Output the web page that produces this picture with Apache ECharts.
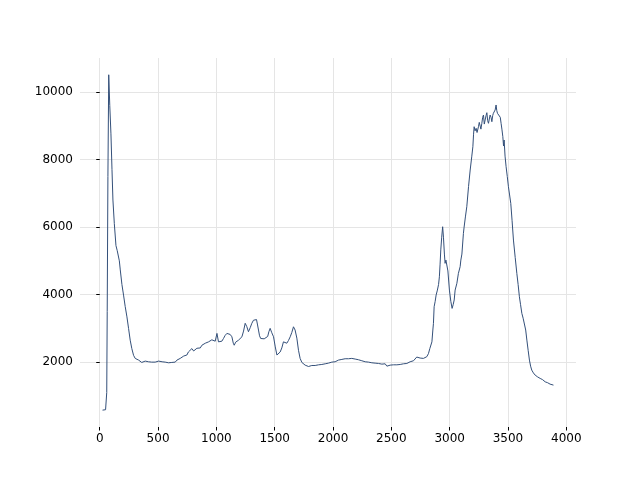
<!DOCTYPE html>
<html>
<head>
<meta charset="utf-8">
<script src="https://cdn.jsdelivr.net/npm/echarts@6/dist/echarts.min.js"></script>
<style>
html,body{margin:0;padding:0;background:#fff;}
#chart{width:640px;height:480px;}
</style>
</head>
<body>
<div id="chart"></div>
<script>
// Spectrum data
const xValues = [
24,40,50,56,60,64,70,77,86,96,105,113,125,139,150,160,168,176,190,204,218,233,247,261,275,290,304,318,333,345,
360,375,390,405,418,430,445,461,475,490,505,519,535,548,561,575,590,604,618,632,647,662,676,690,705,720,733,747,760,775,
790,805,819,833,847,862,876,890,905,919,933,947,961,975,990,1005,1018,1032,1047,1061,1075,1090,1104,1118,1133,1145,1153,1165,1178,1190,
1205,1219,1233,1247,1261,1275,1290,1304,1318,1330,1344,1353,1361,1370,1380,1395,1410,1425,1440,1450,1461,1475,1490,1505,1519,1533,1547,1561,1575,1590,
1604,1618,1633,1647,1661,1675,1690,1704,1718,1733,1747,1761,1775,1790,1804,1818,1833,1847,1862,1876,1890,1904,1918,1933,1947,1961,1976,1990,2004,2018,
2033,2047,2061,2076,2090,2104,2118,2133,2147,2161,2176,2190,2204,2218,2233,2247,2261,2276,2290,2304,2318,2333,2347,2361,2376,2390,2404,2419,2433,2447,
2462,2476,2490,2504,2518,2533,2547,2561,2576,2590,2604,2618,2633,2647,2661,2675,2690,2704,2718,2732,2747,2761,2775,2790,2804,2818,2830,2839,2848,2856,
2861,2867,2876,2884,2895,2905,2912,2918,2924,2932,2940,2947,2955,2961,2968,2976,2985,2998,3010,3021,3030,3039,3047,3062,3075,3090,3096,3105,3118,3124,
3135,3147,3162,3176,3190,3199,3205,3210,3218,3227,3235,3247,3254,3261,3268,3276,3283,3290,3297,3304,3312,3319,3326,3333,3340,3347,3355,3362,3369,3375,
3383,3390,3398,3404,3410,3418,3427,3434,3441,3448,3456,3462,3467,3475,3484,3494,3504,3514,3524,3535,3547,3562,3576,3587,3598,3608,3619,3630,3641,3652,
3662,3673,3684,3694,3704,3718,3733,3755,3776,3797,3819,3840,3861,3876,3890
];
const yValues = [
578,575,590,640,1100,3500,7500,10510,9600,8760,7700,6800,6100,5450,5300,5250,5000,4730,4300,3985,3650,3340,3000,2650,2400,2200,2110,2080,2060,2010,
1990,1980,2030,2000,2010,1970,2000,1960,2000,1990,2030,2000,2010,1990,2000,1960,1980,1930,1990,2030,2000,2060,2090,2110,2080,2180,2160,2210,2300,2270,
2400,2330,2360,2410,2450,2420,2500,2500,2560,2540,2600,2620,2660,2640,2620,2850,2600,2640,2620,2700,2790,2850,2900,2820,2750,2560,2500,2590,2620,2650,
2700,2750,2920,3150,3050,2900,3020,3150,3240,3200,3260,3100,2950,2780,2700,2740,2690,2720,2760,2900,3000,2870,2750,2450,2210,2260,2300,2420,2600,2560,
2560,2640,2750,2880,3046,2950,2710,2350,2110,1990,1940,1910,1880,1870,1860,1900,1870,1900,1890,1920,1900,1930,1910,1950,1930,1970,1960,2000,2030,2010,
2050,2060,2060,2080,2070,2100,2080,2100,2090,2110,2080,2090,2080,2070,2060,2040,2050,2010,2020,2000,1990,1980,1960,1970,1950,1960,1930,1940,1920,1950,
1880,1930,1910,1940,1920,1950,1920,1940,1930,1960,1950,1980,1960,1990,2010,2000,2040,2060,2150,2160,2120,2130,2110,2130,2160,2250,2400,2453,2600,2950,
3147,3640,3800,3985,4133,4300,4527,4900,5323,5700,6009,5700,5200,4925,5022,5000,4700,4133,3800,3591,3700,3840,4133,4335,4628,4828,5022,5200,5813,6000,
6300,6601,7200,7689,8100,8379,8750,8972,8850,8924,8800,8972,9100,9120,8900,9073,9250,9318,9050,9022,9300,9387,9150,9073,9200,9318,9250,9120,9300,9369,
9400,9467,9615,9450,9369,9400,9369,9250,9073,8900,8675,8400,8578,8100,7787,7500,7194,6950,6702,6200,5615,5100,4628,4300,3935,3700,3443,3300,3244,2950,
2652,2350,2059,1880,1763,1680,1615,1560,1517,1480,1416,1390,1348,1340,1319
];
const xTicks = [0,500,1000,1500,2000,2500,3000,3500,4000];
const yTicks = [2000,4000,6000,8000,10000];

const seriesData = xValues.map((x, i) => [x, yValues[i]]);
const xMinD = Math.min(...xValues), xMaxD = Math.max(...xValues);
const yMinD = Math.min(...yValues), yMaxD = Math.max(...yValues);
const xPad = 0.05 * (xMaxD - xMinD), yPad = 0.05 * (yMaxD - yMinD);

const font = 'DejaVu Sans';
const chart = echarts.init(document.getElementById('chart'), null, {renderer: 'canvas'});
chart.setOption({
  animation: false,
  backgroundColor: '#ffffff',
  grid: {left: 80, right: 64, top: 58, bottom: 53, containLabel: false},
  xAxis: {
    type: 'value',
    min: xMinD - xPad,
    max: xMaxD + xPad,
    axisLine: {show: false},
    axisTick: {show: true, length: 3.5, customValues: xTicks, lineStyle: {color: '#000', width: 1}},
    axisLabel: {customValues: xTicks, margin: 6, color: '#000', fontFamily: font, fontSize: 12,
      formatter: v => String(v)},
    splitLine: {show: true, lineStyle: {color: '#e5e5e5', width: 1}}
  },
  yAxis: {
    type: 'value',
    min: yMinD - yPad,
    max: yMaxD + yPad,
    axisLine: {show: false},
    axisTick: {show: true, length: 3.5, customValues: yTicks, lineStyle: {color: '#000', width: 1}},
    axisLabel: {customValues: yTicks, margin: 7, color: '#000', fontFamily: font, fontSize: 12,
      formatter: v => String(v)},
    splitLine: {show: true, lineStyle: {color: '#e5e5e5', width: 1}}
  },
  series: [{
    type: 'line',
    data: seriesData,
    showSymbol: false,
    symbol: 'none',
    lineStyle: {color: '#34507a', width: 1},
    silent: true
  }]
});
</script>
</body>
</html>
